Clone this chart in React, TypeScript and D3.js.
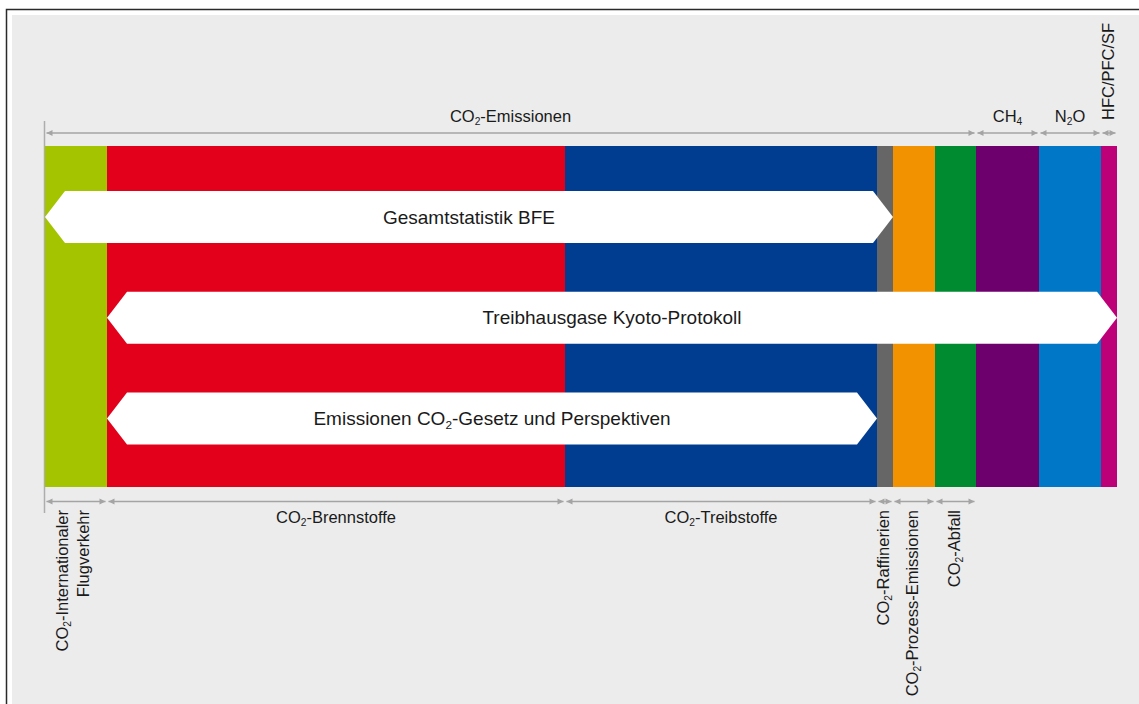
import React from 'react';
import * as d3 from 'd3';

// ---- data (relative sizes) ----
const categories = [
  'CO₂-Internationaler Flugverkehr',
  'CO₂-Brennstoffe',
  'CO₂-Treibstoffe',
  'CO₂-Raffinerien',
  'CO₂-Prozess-Emissionen',
  'CO₂-Abfall',
  'CH₄',
  'N₂O',
  'HFC/PFC/SF₆',
];
const values = [62, 458, 312, 16, 42, 41, 63, 62, 16];
const colors = ['#A5C400', '#E2001A', '#003C8F', '#666666', '#F39200', '#008B31', '#6E006E', '#0078C7', '#BE0078'];

const bottomLabels = [
  ['CO₂-Internationaler', 'Flugverkehr'],
  ['CO₂-Brennstoffe'],
  ['CO₂-Treibstoffe'],
  ['CO₂-Raffinerien'],
  ['CO₂-Prozess-Emissionen'],
  ['CO₂-Abfall'],
];
const topGroupLabels = ['CO₂-Emissionen', 'CH₄', 'N₂O', 'HFC/PFC/SF'];
const topGroupSpans: [number, number][] = [[0, 5], [6, 6], [7, 7], [8, 8]];
const bannerLabels = ['Gesamtstatistik BFE', 'Treibhausgase Kyoto-Protokoll', 'Emissionen CO₂-Gesetz und Perspektiven'];
const bannerSpans: [number, number][] = [[0, 3], [1, 8], [1, 2]];

// ---- layout ----
const W = 1139;
const H = 704;
const barTop = 146;
const barBottom = 487;
const topArrowY = 133;
const bottomArrowY = 501.5;
const labelFs = 16.5;
const bannerFs = 19;
const textColor = '#1A1A1A';
const arrowColor = '#A4A4A4';
const font = '"Liberation Sans", Arial, Helvetica, sans-serif';

const subMap: Record<string, string> = { '₂': '2', '₄': '4', '₆': '6' };

function Rich({ text, fs }: { text: string; fs: number }) {
  const parts = text.split(/([₂₄₆])/).filter((p) => p !== '');
  const out: React.ReactNode[] = [];
  let shifted = false;
  const sh = fs * 0.2;
  parts.forEach((p, i) => {
    if (subMap[p]) {
      out.push(
        <tspan key={i} fontSize={fs * 0.62} dy={sh}>
          {subMap[p]}
        </tspan>
      );
      shifted = true;
    } else {
      out.push(
        <tspan key={i} dy={shifted ? -sh : undefined}>
          {p}
        </tspan>
      );
      shifted = false;
    }
  });
  return <>{out}</>;
}

function Arrow({ x1, x2, y }: { x1: number; x2: number; y: number }) {
  const a = x1 + 1.5;
  const b = x2 - 1.5;
  const L = 6;
  const h = 3;
  return (
    <g>
      <line x1={a} x2={b} y1={y} y2={y} stroke={arrowColor} strokeWidth={1.4} />
      <path d={`M${a},${y}L${a + L},${y - h}L${a + L},${y + h}Z`} fill={arrowColor} />
      <path d={`M${b},${y}L${b - L},${y - h}L${b - L},${y + h}Z`} fill={arrowColor} />
    </g>
  );
}

export default function App() {
  const total = d3.sum(values);
  const cum = [0, ...d3.cumsum(values)];
  const x = d3.scaleLinear().domain([0, total]).range([45, 1117]);
  const segStart = (i: number) => x(cum[i]);
  const segEnd = (i: number) => x(cum[i + 1]);

  const bannerY = d3.scalePoint<string>().domain(bannerLabels).range([217, 418.5]);
  const bannerH = 52;
  const tip = 20;

  return (
    <svg
      width={W}
      height={H}
      style={{ position: 'absolute', left: 0, top: 0, display: 'block' }}
      fontFamily={font}
    >
      <rect x={6.5} y={9.5} width={1400} height={900} fill="#ffffff" stroke="#2a2a2a" strokeWidth={1.5} />
      <rect x={12} y={15} width={1400} height={900} fill="#ECECEC" />

      {/* left reference line */}
      <line x1={44.5} x2={44.5} y1={121} y2={513} stroke="#ADADAD" strokeWidth={1.5} />

      {/* bars */}
      {values.map((v, i) => (
        <rect
          key={categories[i]}
          x={segStart(i)}
          y={barTop}
          width={segEnd(i) - segStart(i)}
          height={barBottom - barTop}
          fill={colors[i]}
        />
      ))}

      {/* banners */}
      {bannerLabels.map((lab, i) => {
        const [f, t] = bannerSpans[i];
        const xa = segStart(f);
        const xb = segEnd(t);
        const cy = bannerY(lab) as number;
        const y0 = cy - bannerH / 2;
        const y1 = cy + bannerH / 2;
        const d = `M${xa},${cy}L${xa + tip},${y0}L${xb - tip},${y0}L${xb},${cy}L${xb - tip},${y1}L${xa + tip},${y1}Z`;
        return (
          <g key={lab}>
            <path d={d} fill="#ffffff" />
            <text x={(xa + xb) / 2} y={cy + 6.5} textAnchor="middle" fontSize={bannerFs} fill={textColor}>
              <Rich text={lab} fs={bannerFs} />
            </text>
          </g>
        );
      })}

      {/* top group arrows & labels */}
      {topGroupLabels.map((lab, i) => {
        const [f, t] = topGroupSpans[i];
        const xa = segStart(f);
        const xb = segEnd(t);
        const cx = (xa + xb) / 2;
        const wide = xb - xa > 40;
        return (
          <g key={lab}>
            <Arrow x1={xa} x2={xb} y={topArrowY} />
            {wide ? (
              <text x={cx} y={122} textAnchor="middle" fontSize={labelFs} fill={textColor}>
                <Rich text={lab} fs={labelFs} />
              </text>
            ) : (
              <text
                transform={`translate(${cx + 5},120) rotate(-90)`}
                textAnchor="start"
                fontSize={labelFs}
                fill={textColor}
              >
                <Rich text={lab} fs={labelFs} />
              </text>
            )}
          </g>
        );
      })}

      {/* bottom arrows & labels */}
      {bottomLabels.map((lines, i) => {
        const xa = segStart(i);
        const xb = segEnd(i);
        const cx = (xa + xb) / 2;
        const wide = xb - xa > 150;
        const n = lines.length;
        return (
          <g key={categories[i]}>
            <Arrow x1={xa} x2={xb} y={bottomArrowY} />
            {wide ? (
              <text x={cx} y={523} textAnchor="middle" fontSize={labelFs} fill={textColor}>
                <Rich text={lines[0]} fs={labelFs} />
              </text>
            ) : (
              lines.map((ln, j) => (
                <text
                  key={ln}
                  transform={`translate(${cx + 4 + (j - (n - 1) / 2) * 21 - (n - 1) * 2},510) rotate(-90)`}
                  textAnchor="end"
                  fontSize={labelFs}
                  fill={textColor}
                >
                  <Rich text={ln} fs={labelFs} />
                </text>
              ))
            )}
          </g>
        );
      })}
    </svg>
  );
}
